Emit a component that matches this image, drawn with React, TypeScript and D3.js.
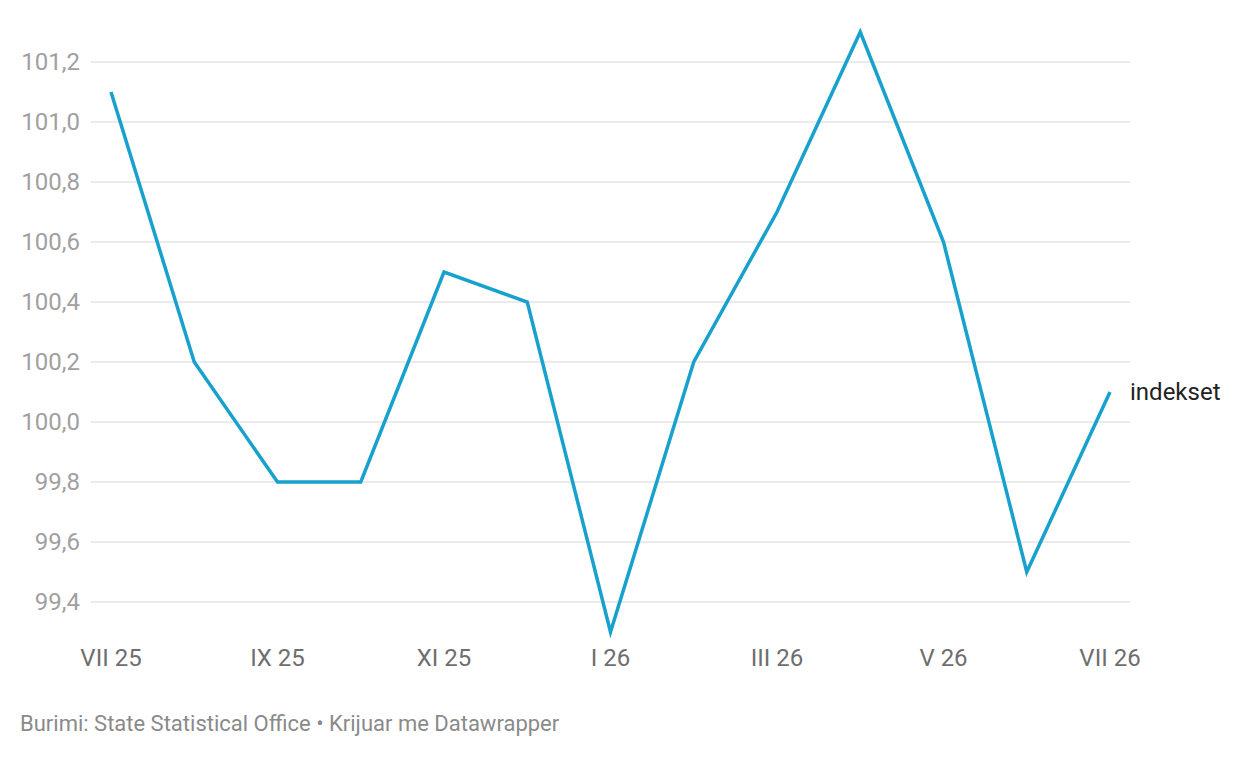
import { useRef, useEffect } from 'react'
import * as d3 from 'd3'

const months = ['VII 25', 'VIII 25', 'IX 25', 'X 25', 'XI 25', 'XII 25', 'I 26', 'II 26', 'III 26', 'IV 26', 'V 26', 'VI 26', 'VII 26']
const values = [101.1, 100.2, 99.8, 99.8, 100.5, 100.4, 99.3, 100.2, 100.7, 101.3, 100.6, 99.5, 100.1]
const yTicks = [99.4, 99.6, 99.8, 100.0, 100.2, 100.4, 100.6, 100.8, 101.0, 101.2]
const xTickLabels = ['VII 25', 'IX 25', 'XI 25', 'I 26', 'III 26', 'V 26', 'VII 26']
const seriesName = 'indekset'
const footer = 'Burimi: State Statistical Office • Krijuar me Datawrapper'

const width = 1240
const height = 758

const App = () => {
  const svgRef = useRef<SVGSVGElement>(null)

  useEffect(() => {
    if (!svgRef.current) return
    document.body.style.margin = '0'
    const svg = d3.select(svgRef.current)
    svg.selectAll('*').remove()

    const font = 'Roboto, sans-serif'
    const fmt = (v: number) => v.toFixed(1).replace('.', ',')

    // scales
    const x = d3.scalePoint<string>().domain(months).range([111, 1110])
    const y = d3.scaleLinear().domain([99.4, 101.2]).range([602, 62])

    // grid lines
    svg.append('g')
      .selectAll('line')
      .data(yTicks)
      .join('line')
      .attr('x1', 91)
      .attr('x2', 1130)
      .attr('y1', d => y(d))
      .attr('y2', d => y(d))
      .attr('stroke', '#e5e5e5')
      .attr('stroke-width', 1.5)

    // y labels
    svg.append('g')
      .selectAll('text')
      .data(yTicks)
      .join('text')
      .attr('x', 80)
      .attr('y', d => y(d))
      .attr('dy', '0.35em')
      .attr('text-anchor', 'end')
      .attr('font-family', font)
      .attr('font-size', 24)
      .attr('fill', '#a0a0a0')
      .text(d => fmt(d))

    // x labels
    svg.append('g')
      .selectAll('text')
      .data(xTickLabels)
      .join('text')
      .attr('x', d => x(d) ?? 0)
      .attr('y', 666)
      .attr('text-anchor', 'middle')
      .attr('font-family', font)
      .attr('font-size', 24)
      .attr('fill', '#6e6e6e')
      .text(d => d)

    // line
    const line = d3.line<number>()
      .x((_, i) => x(months[i]) ?? 0)
      .y(d => y(d))

    svg.append('path')
      .datum(values)
      .attr('fill', 'none')
      .attr('stroke', '#18a1cd')
      .attr('stroke-width', 3.5)
      .attr('stroke-linejoin', 'miter')
      .attr('d', line)

    // series label
    svg.append('text')
      .attr('x', 1130)
      .attr('y', y(values[values.length - 1]))
      .attr('dy', '0.35em')
      .attr('font-family', font)
      .attr('font-size', 24)
      .attr('fill', '#222')
      .text(seriesName)

    // footer
    svg.append('text')
      .attr('x', 20)
      .attr('y', 731)
      .attr('font-family', font)
      .attr('font-size', 22)
      .attr('fill', '#8a8a8a')
      .text(footer)
  }, [])

  return (
    <div style={{ position: 'absolute', left: 0, top: 0, background: '#fff' }}>
      <svg ref={svgRef} width={width} height={height} style={{ display: 'block' }} />
    </div>
  )
}

export default App
